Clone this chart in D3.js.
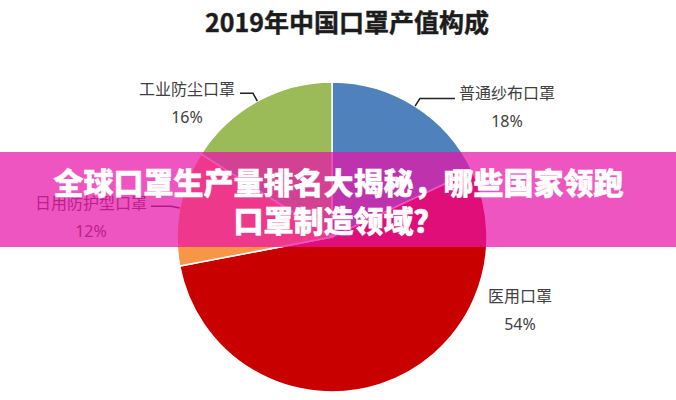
<!DOCTYPE html>
<html>
<head>
<meta charset="utf-8">
<script src="https://cdn.jsdelivr.net/npm/d3@7"></script>
<style>
  html, body { margin: 0; padding: 0; background: #fff; }
  svg { display: block; }
</style>
</head>
<body>
<svg id="chart" width="676" height="400"></svg>
<script>
const title = "2019年中国口罩产值构成";
const categories = ["普通纱布口罩", "医用口罩", "日用防护型口罩", "工业防尘口罩"];
const values = [18, 54, 12, 16];
const colors = ["#4F81BD", "#C80000", "#F79646", "#9BBB59"];
const bannerLines = ["全球口罩生产量排名大揭秘，哪些国家领跑", "口罩制造领域？"];

// label layout (center of name text, percent text below), and leader flag
const labelLayout = [
  { x: 507, y: 92, anchorX: 455, leader: true },
  { x: 520, y: 295, anchorX: null, leader: false },
  { x: 91, y: 202, anchorX: 151, leader: true },
  { x: 187, y: 88, anchorX: 240, leader: true }
];

const svg = d3.select("#chart");
const W = 676, H = 400;
const cx = 332, cy = 237, R = 155;

svg.append("text")
  .attr("x", 347).attr("y", 21)
  .attr("text-anchor", "middle")
  .attr("dominant-baseline", "central")
  .attr("font-family", "'Noto Sans CJK SC', sans-serif")
  .attr("font-weight", "bold")
  .attr("font-size", 25)
  .attr("fill", "#1c1c1c")
  .attr("stroke", "#1c1c1c")
  .attr("stroke-width", 0.4)
  .text(title);

const pie = d3.pie().sort(null).value(d => d);
const arcs = pie(values);
const arc = d3.arc().innerRadius(0).outerRadius(R);

const g = svg.append("g").attr("transform", `translate(${cx},${cy})`);
g.selectAll("path").data(arcs).join("path")
  .attr("d", arc)
  .attr("fill", (d, i) => colors[i])
  .attr("stroke", "#fff")
  .attr("stroke-width", 1.5);

const fmt = d3.format(".0%");
const total = d3.sum(values);

arcs.forEach((d, i) => {
  const L = labelLayout[i];
  const mid = (d.startAngle + d.endAngle) / 2;
  if (L.leader) {
    const p0 = [cx + R * Math.sin(mid), cy - R * Math.cos(mid)];
    const p1 = [cx + (R + 9) * Math.sin(mid), cy - (R + 9) * Math.cos(mid)];
    const p2 = [L.anchorX, p1[1]];
    svg.append("path")
      .attr("d", d3.line()([p0, p1, p2]))
      .attr("fill", "none")
      .attr("stroke", "#222")
      .attr("stroke-width", 1.5);
  }
  svg.append("text")
    .attr("x", L.x).attr("y", L.y)
    .attr("text-anchor", "middle")
    .attr("dominant-baseline", "central")
    .attr("font-family", "'Noto Sans CJK SC', sans-serif")
    .attr("font-size", 16)
    .attr("fill", "#404040")
    .text(categories[i]);
  svg.append("text")
    .attr("x", L.x).attr("y", L.y + 29)
    .attr("text-anchor", "middle")
    .attr("dominant-baseline", "central")
    .attr("font-family", "'Noto Sans', sans-serif")
    .attr("font-size", 16)
    .attr("fill", "#404040")
    .text(fmt(values[i] / total));
});

// banner overlay
svg.append("rect")
  .attr("x", 0).attr("y", 152)
  .attr("width", W).attr("height", 95)
  .attr("fill", "rgb(233,20,168)")
  .attr("fill-opacity", 0.72);

bannerLines.forEach((t, i) => {
  svg.append("text")
    .attr("x", 338.5).attr("y", 181 + i * 38)
    .attr("text-anchor", "middle")
    .attr("dominant-baseline", "central")
    .attr("font-family", "'Noto Sans CJK SC', sans-serif")
    .attr("font-weight", 900)
    .attr("font-size", 30)
    .attr("fill", "#fff")
    .attr("stroke", "#fff")
    .attr("stroke-width", 0.5)
    .text(t);
});
</script>
</body>
</html>
